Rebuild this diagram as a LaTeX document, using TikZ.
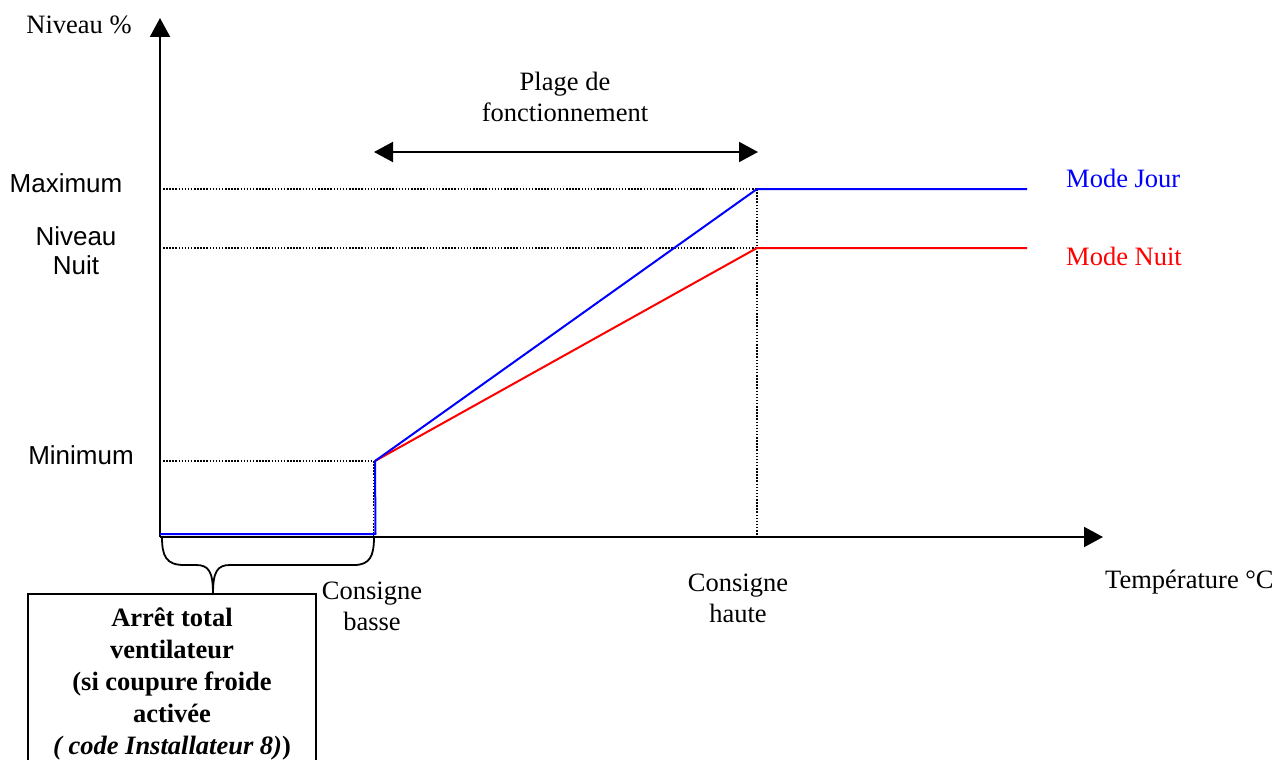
\documentclass[tikz,border=0pt]{standalone}
\usepackage{fontspec}
\setmainfont{Liberation Serif}
\newfontfamily\arialf{Liberation Sans}
\usetikzlibrary{arrows.meta}
\begin{document}
\begin{tikzpicture}[x=1pt,y=-1pt,
  axisline/.style={line width=2pt,-{Triangle[length=19pt,width=20pt]}},
  guide/.style={line width=1.5pt,dash pattern=on 1.5pt off 1.6pt},
  curve/.style={line width=2pt},
  serif/.style={font=\fontsize{26.5}{31}\selectfont,inner sep=0pt},
  sans/.style={font=\arialf\fontsize{26}{29}\selectfont,inner sep=0pt},
  boxtext/.style={font=\bfseries\fontsize{26.5}{32}\selectfont,align=center,inner sep=0pt}]
\useasboundingbox (0,0) rectangle (1288,760);
% key points
\coordinate (O) at (160,537);
\coordinate (ytip) at (160,18);
\coordinate (xtip) at (1103,537);
\coordinate (maxY) at (163,189);
\coordinate (nuitY) at (163,248);
\coordinate (minY) at (163,461);
\coordinate (low) at (375,461);
\coordinate (lowdot) at (373.5,461);
\coordinate (lowdotb) at (373.5,537);
\coordinate (hiB) at (757,189);
\coordinate (hiR) at (757,248);
\coordinate (hiAx) at (757,537);
\coordinate (endB) at (1027,189);
\coordinate (endR) at (1027,248);
\coordinate (b0) at (160,534);
\coordinate (b1) at (375.5,534);
\coordinate (pl) at (374,152);
\coordinate (pr) at (758,152);
% guides
\draw[guide] (maxY) -- (hiB);
\draw[guide] (nuitY) -- (hiR);
\draw[guide] (minY) -- (lowdot);
\draw[guide] (hiB) -- (hiAx);
\draw[guide] (lowdot) -- (lowdotb);
% axes
\draw[axisline] (O) -- (ytip);
\draw[axisline] (O) -- (xtip);
% curves
\draw[curve,red,line join=round] (low) -- (hiR) -- (endR);
\draw[curve,blue,line join=round] (b0) -- (b1) -- (low) -- (hiB) -- (endB);
% range arrow
\draw[line width=2pt,{Triangle[length=19pt,width=20pt]}-{Triangle[length=19pt,width=20pt]}] (pl) -- (pr);
% brace
\coordinate (brL) at (162,537);
\coordinate (brR) at (374,537);
\coordinate (brT) at (213,594);
\draw[line width=1.8pt] (brL) .. controls (162,556) and (166,565) .. (184,565) -- (196,565) .. controls (209,565) and (213,572) .. (brT);
\draw[line width=1.8pt] (brT) .. controls (213,572) and (217,565) .. (230,565) -- (354,565) .. controls (370,565) and (374,556) .. (brR);
% labels
\node[serif] (ylab) at (79,25) {Niveau \%};
\node[sans] (lmax) at (66,183) {Maximum};
\node[sans,align=center] (lnuit) at (76,251) {Niveau\\Nuit};
\node[sans] (lmin) at (81,455) {Minimum};
\node[serif,align=center] (plage) at (565,97) {Plage de\\fonctionnement};
\node[serif,anchor=west,text=blue] (mj) at (1066,178) {Mode Jour};
\node[serif,anchor=west,text=red] (mn) at (1066,256) {Mode Nuit};
\node[serif,align=center] (cb) at (372,606) {Consigne\\basse};
\node[serif,align=center] (ch) at (738,598) {Consigne\\haute};
\node[serif,anchor=west] (xlab) at (1105,582) {Température °C};
% box
\draw[line width=1.8pt] (28,775) -- (28,594) -- (316,594) -- (316,775);
\node[boxtext] (box) at (172,684) {Arrêt total\\ventilateur\\(si coupure froide\\activée\\\textit{( code Installateur 8)})};
\end{tikzpicture}
\end{document}
